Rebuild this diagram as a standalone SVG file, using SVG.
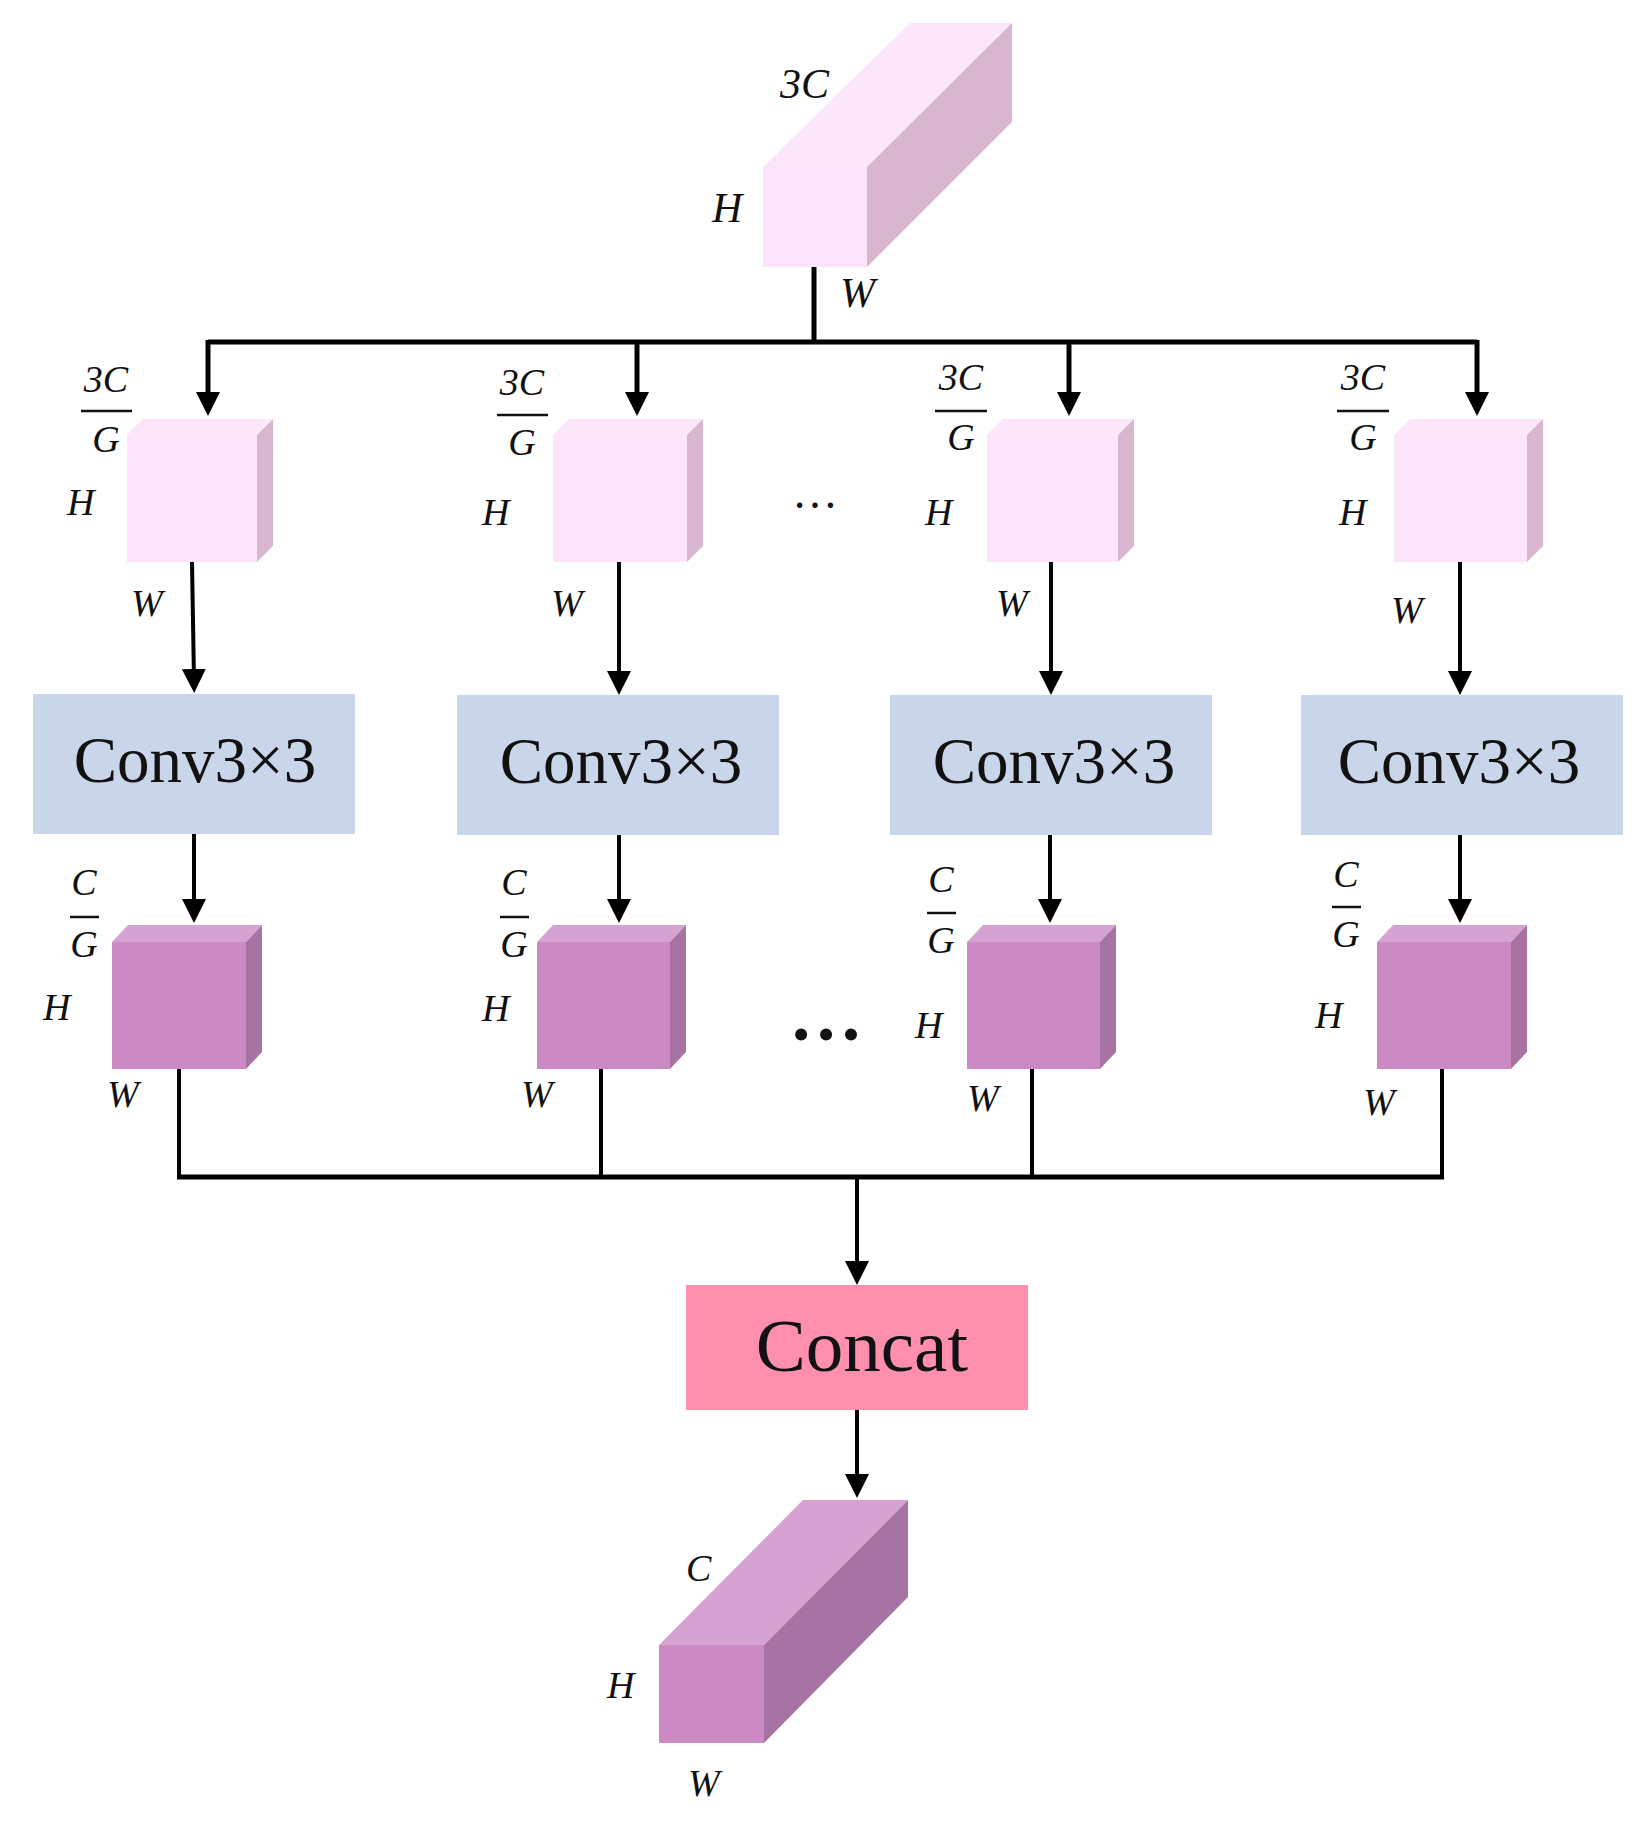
<svg xmlns="http://www.w3.org/2000/svg" width="1644" height="1823" viewBox="0 0 1644 1823">
<defs>
<marker id="ah" viewBox="0 0 24 24" refX="12" refY="12" markerWidth="24" markerHeight="24" markerUnits="userSpaceOnUse" orient="auto">
<path d="M0,0 L24,12 L0,24 z" fill="#000"/>
</marker>
</defs>
<style>
.lbl{font-family:"Liberation Serif","Times New Roman",serif;font-style:italic;font-size:38px;fill:#111}
.big{font-size:42px}
.mid{text-anchor:middle}
.box{font-family:"Liberation Serif","Times New Roman",serif;fill:#111;text-anchor:middle}
.pf{fill:#FCE4FB}.pt{fill:#FBE6FA}.pr{fill:#D8B6CF}
.uf{fill:#CC8AC5}.ut{fill:#D6A2D1}.ur{fill:#A673A3}
.conv{fill:#C9D5E9}
.cat{fill:#FF8FAD}
.fl{stroke:#111;stroke-width:2.5}
.ln{fill:none;stroke:#000;stroke-width:5}
.th{fill:none;stroke:#000;stroke-width:4}
.dots{font-family:"Liberation Serif","Times New Roman",serif;fill:#111;text-anchor:middle}
</style>
<rect width="1644" height="1823" fill="#fff"/>

<g id="input">
<polygon class="pt" points="763,167 910,23 1012,23 867,167"/>
<polygon class="pr" points="867,167 1012,23 1012,122 867,267"/>
<rect class="pf" x="763" y="167" width="104" height="100"/>
<text class="lbl big" x="780" y="98">3C</text>
<text class="lbl big" x="712" y="222">H</text>
<text class="lbl big" x="840" y="307">W</text>
</g>

<g id="split1">
<polygon class="pt" points="127,435 143,419 273,419 257,435"/>
<polygon class="pr" points="257,435 273,419 273,546 257,562"/>
<rect class="pf" x="127" y="435" width="130" height="127"/>
<text class="lbl mid" x="106" y="392">3C</text>
<line class="fl" x1="81" y1="411" x2="132" y2="411"/>
<text class="lbl mid" x="106" y="452">G</text>
<text class="lbl" x="67" y="515">H</text>
<text class="lbl" x="131" y="616">W</text>
</g>
<g id="split2">
<polygon class="pt" points="553,435 569,419 703,419 687,435"/>
<polygon class="pr" points="687,435 703,419 703,546 687,562"/>
<rect class="pf" x="553" y="435" width="134" height="127"/>
<text class="lbl mid" x="522" y="395">3C</text>
<line class="fl" x1="497" y1="415" x2="548" y2="415"/>
<text class="lbl mid" x="522" y="455">G</text>
<text class="lbl" x="482" y="525">H</text>
<text class="lbl" x="551" y="616">W</text>
</g>
<g id="split3">
<polygon class="pt" points="987,435 1003,419 1134,419 1118,435"/>
<polygon class="pr" points="1118,435 1134,419 1134,546 1118,562"/>
<rect class="pf" x="987" y="435" width="131" height="127"/>
<text class="lbl mid" x="961" y="390">3C</text>
<line class="fl" x1="935" y1="411" x2="987" y2="411"/>
<text class="lbl mid" x="961" y="450">G</text>
<text class="lbl" x="925" y="525">H</text>
<text class="lbl" x="996" y="616">W</text>
</g>
<g id="split4">
<polygon class="pt" points="1394,435 1410,419 1543,419 1527,435"/>
<polygon class="pr" points="1527,435 1543,419 1543,546 1527,562"/>
<rect class="pf" x="1394" y="435" width="133" height="127"/>
<text class="lbl mid" x="1363" y="390">3C</text>
<line class="fl" x1="1337" y1="411" x2="1389" y2="411"/>
<text class="lbl mid" x="1363" y="450">G</text>
<text class="lbl" x="1339" y="525">H</text>
<text class="lbl" x="1391" y="623">W</text>
</g>

<text id="dots1" class="dots" x="815" y="508" font-size="46">…</text>

<g id="conv1"><rect class="conv" x="33" y="694" width="322" height="140"/><text class="box" x="195" y="782" font-size="65">Conv3×3</text></g>
<g id="conv2"><rect class="conv" x="457" y="695" width="322" height="140"/><text class="box" x="621" y="783" font-size="65">Conv3×3</text></g>
<g id="conv3"><rect class="conv" x="890" y="695" width="322" height="140"/><text class="box" x="1054" y="783" font-size="65">Conv3×3</text></g>
<g id="conv4"><rect class="conv" x="1301" y="695" width="322" height="140"/><text class="box" x="1459" y="783" font-size="65">Conv3×3</text></g>

<g id="out1">
<polygon class="ut" points="112,942 128,925 262,925 246,942"/>
<polygon class="ur" points="246,942 262,925 262,1052 246,1069"/>
<rect class="uf" x="112" y="942" width="134" height="127"/>
<text class="lbl mid" x="84" y="895">C</text>
<line class="fl" x1="70" y1="917" x2="99" y2="917"/>
<text class="lbl mid" x="84" y="957">G</text>
<text class="lbl" x="43" y="1020">H</text>
<text class="lbl" x="107" y="1107">W</text>
</g>
<g id="out2">
<polygon class="ut" points="537,942 553,925 686,925 670,942"/>
<polygon class="ur" points="670,942 686,925 686,1052 670,1069"/>
<rect class="uf" x="537" y="942" width="133" height="127"/>
<text class="lbl mid" x="514" y="895">C</text>
<line class="fl" x1="500" y1="917" x2="529" y2="917"/>
<text class="lbl mid" x="514" y="957">G</text>
<text class="lbl" x="482" y="1021">H</text>
<text class="lbl" x="521" y="1107">W</text>
</g>
<g id="out3">
<polygon class="ut" points="967,942 983,925 1116,925 1100,942"/>
<polygon class="ur" points="1100,942 1116,925 1116,1052 1100,1069"/>
<rect class="uf" x="967" y="942" width="133" height="127"/>
<text class="lbl mid" x="941" y="892">C</text>
<line class="fl" x1="927" y1="913" x2="956" y2="913"/>
<text class="lbl mid" x="941" y="953">G</text>
<text class="lbl" x="915" y="1038">H</text>
<text class="lbl" x="967" y="1111">W</text>
</g>
<g id="out4">
<polygon class="ut" points="1377,942 1393,925 1527,925 1511,942"/>
<polygon class="ur" points="1511,942 1527,925 1527,1052 1511,1069"/>
<rect class="uf" x="1377" y="942" width="134" height="127"/>
<text class="lbl mid" x="1346" y="887">C</text>
<line class="fl" x1="1332" y1="907" x2="1361" y2="907"/>
<text class="lbl mid" x="1346" y="947">G</text>
<text class="lbl" x="1315" y="1028">H</text>
<text class="lbl" x="1363" y="1115">W</text>
</g>

<text id="dots2" class="dots" x="826" y="1040" font-size="74" font-weight="bold">…</text>

<g id="concat"><rect class="cat" x="686" y="1285" width="342" height="125"/><text class="box" x="862" y="1371" font-size="75">Concat</text></g>

<g id="output">
<polygon class="ut" points="659,1645 803,1500 908,1500 764,1645"/>
<polygon class="ur" points="764,1645 908,1500 908,1597 764,1743"/>
<rect class="uf" x="659" y="1645" width="105" height="98"/>
<text class="lbl" x="686" y="1581" font-size="44">C</text>
<text class="lbl" x="607" y="1698" font-size="42">H</text>
<text class="lbl" x="688" y="1796" font-size="42">W</text>
</g>

<g id="connectors">
<path class="ln" d="M814,267 V342"/>
<path class="ln" d="M208,342 H1477"/>
<path class="ln" d="M208,340 V404" marker-end="url(#ah)"/>
<path class="ln" d="M637,340 V404" marker-end="url(#ah)"/>
<path class="ln" d="M1069,340 V404" marker-end="url(#ah)"/>
<path class="ln" d="M1477,340 V404" marker-end="url(#ah)"/>
<path class="th" d="M192,562 L194,681" marker-end="url(#ah)"/>
<path class="th" d="M619,562 V683" marker-end="url(#ah)"/>
<path class="th" d="M1051,562 V683" marker-end="url(#ah)"/>
<path class="th" d="M1460,562 V683" marker-end="url(#ah)"/>
<path class="th" d="M194,834 V911" marker-end="url(#ah)"/>
<path class="th" d="M619,835 V911" marker-end="url(#ah)"/>
<path class="th" d="M1050,835 V911" marker-end="url(#ah)"/>
<path class="th" d="M1460,835 V911" marker-end="url(#ah)"/>
<path class="th" d="M179,1069 V1177"/>
<path class="th" d="M601,1069 V1177"/>
<path class="th" d="M1032,1069 V1177"/>
<path class="th" d="M1442,1069 V1177"/>
<path class="ln" d="M177,1177 H1444"/>
<path class="th" d="M857,1177 V1273" marker-end="url(#ah)"/>
<path class="th" d="M857,1410 V1486" marker-end="url(#ah)"/>
</g>
</svg>
